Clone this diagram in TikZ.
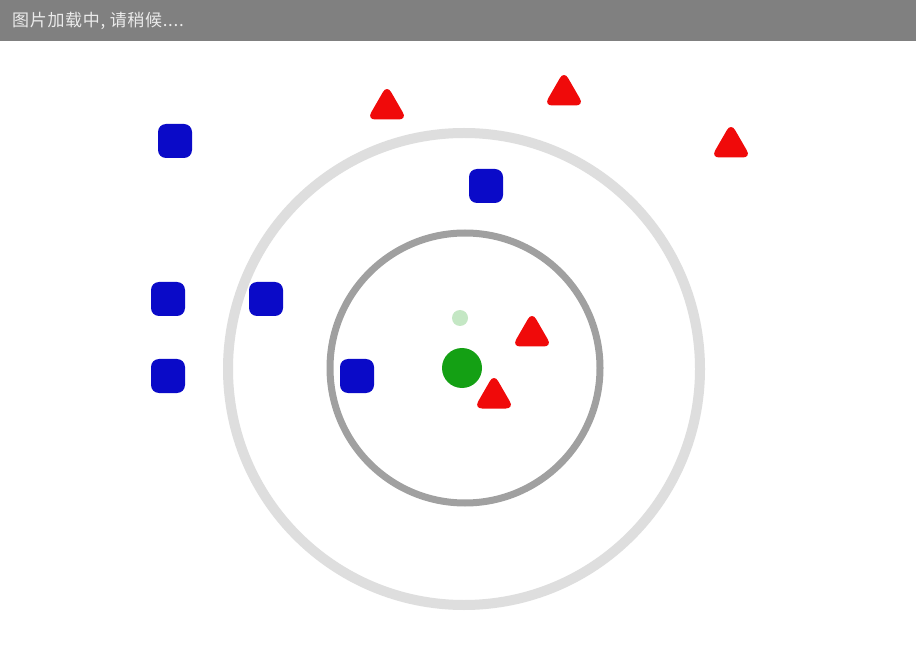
\documentclass[tikz,border=0pt]{standalone}
\usepackage{fontspec}
\newfontfamily\cjk[LetterSpace=4]{Noto Sans CJK SC}
\usetikzlibrary{shapes.geometric}
\definecolor{hdr}{RGB}{128,128,128}
\definecolor{bluept}{RGB}{10,10,200}
\definecolor{redpt}{RGB}{240,10,10}
\definecolor{greenpt}{RGB}{20,160,20}
\definecolor{ringin}{RGB}{160,160,160}
\definecolor{ringout}{RGB}{222,222,222}
\tikzset{
  sq/.style={draw=none, fill=bluept, minimum size=34pt, inner sep=0pt, rounded corners=8pt, rectangle},
  tri/.style={regular polygon, regular polygon sides=3, fill=redpt, minimum size=46pt, inner sep=0pt, rounded corners=8pt},
  grn/.style={circle, fill=greenpt, minimum size=40pt, inner sep=0pt},
  faint/.style={circle, fill=greenpt!25, minimum size=16pt, inner sep=0pt},
  ring/.style={circle, inner sep=0pt}
}
\begin{document}
\begin{tikzpicture}[x=1pt,y=-1pt]
\useasboundingbox (0,0) rectangle (916,660);
\fill[white] (0,0) rectangle (916,660);
\fill[hdr] (0,0) rectangle (916,41);
\node[anchor=west, text=white!92!black, font=\cjk\fontsize{17pt}{20pt}\selectfont, inner sep=0pt] (title) at (12,21) {图片加载中, 请稍候....};
% rings
\node[ring, draw=ringout, line width=10pt, minimum size=472pt] (outer) at (464,369) {};
\node[ring, draw=ringin, line width=7pt, minimum size=270pt] (inner) at (465,368) {};
% blue squares
\node[sq] (b1) at (175,141) {};
\node[sq] (b2) at (486,186) {};
\node[sq] (b3) at (168,299) {};
\node[sq] (b4) at (266,299) {};
\node[sq] (b5) at (168,376) {};
\node[sq] (b6) at (357,376) {};
% red triangles
\node[tri] (r1) at (387,108) {};
\node[tri] (r2) at (564,94) {};
\node[tri] (r3) at (731,146) {};
\node[tri] (r4) at (532,335) {};
\node[tri] (r5) at (494,397) {};
% green
\node[faint] (g0) at (460,318) {};
\node[grn] (g) at (462,368) {};
\end{tikzpicture}
\end{document}
